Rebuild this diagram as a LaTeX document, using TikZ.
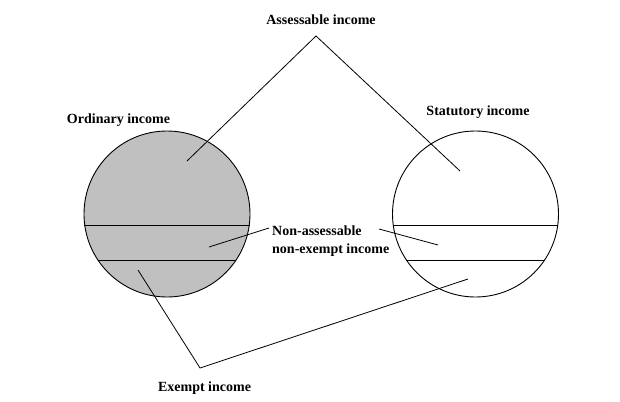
\documentclass[tikz,border=0pt]{standalone}
\usepackage{fontspec}
\setmainfont{Liberation Serif}
\usetikzlibrary{positioning}
\definecolor{poolgray}{RGB}{192,192,192}

\begin{document}
\begin{tikzpicture}[
  x=1pt, y=-1pt,
  every node/.style={font=\fontsize{14}{18}\selectfont\bfseries, inner sep=0pt},
  pool/.style={draw, circle, minimum size=166pt, line width=0.9pt},
  band/.style={line width=1pt},
  pointer/.style={line width=0.8pt}
]
\useasboundingbox (0,0) rectangle (620,401);

% ---------- Circles ----------
\node[pool, fill=poolgray] (ord) at (167,214) {};
\node[pool] (stat) at (475.5,214) {};

% bands inside the circles
\draw[band] (ord.188.3) -- (ord.-8.3);
\draw[band] (ord.214.5) -- (ord.-34.5);
\draw[band] (stat.188.3) -- (stat.-8.3);
\draw[band] (stat.214.5) -- (stat.-34.5);

% ---------- Labels ----------
\node (assess) at (321,20) {Assessable income};
\node (ordlab) at (118.5,120) {Ordinary income};
\node (statlab) at (478,112) {Statutory income};
\node[align=left, anchor=west] (nane) at (272,241) {Non-assessable\\non-exempt income};
\node (exempt) at (204.5,388) {Exempt income};

% ---------- Pointer ends ----------
\coordinate (apex) at (316,36);
\coordinate (ordA) at (187,161);
\coordinate (statA) at (460,171);
\coordinate (naneL) at (269,228);
\coordinate (naneR) at (379,229);
\coordinate (ordN) at (209,247);
\coordinate (statN) at (438,245);
\coordinate (corner) at (200,368);
\coordinate (ordE) at (138,270);
\coordinate (statE) at (468,279);

% ---------- Pointers ----------
\draw[pointer] (ordA) -- (apex) -- (statA);
\draw[pointer] (naneL) -- (ordN);
\draw[pointer] (naneR) -- (statN);
\draw[pointer] (ordE) -- (corner) -- (statE);
\end{tikzpicture}
\end{document}
